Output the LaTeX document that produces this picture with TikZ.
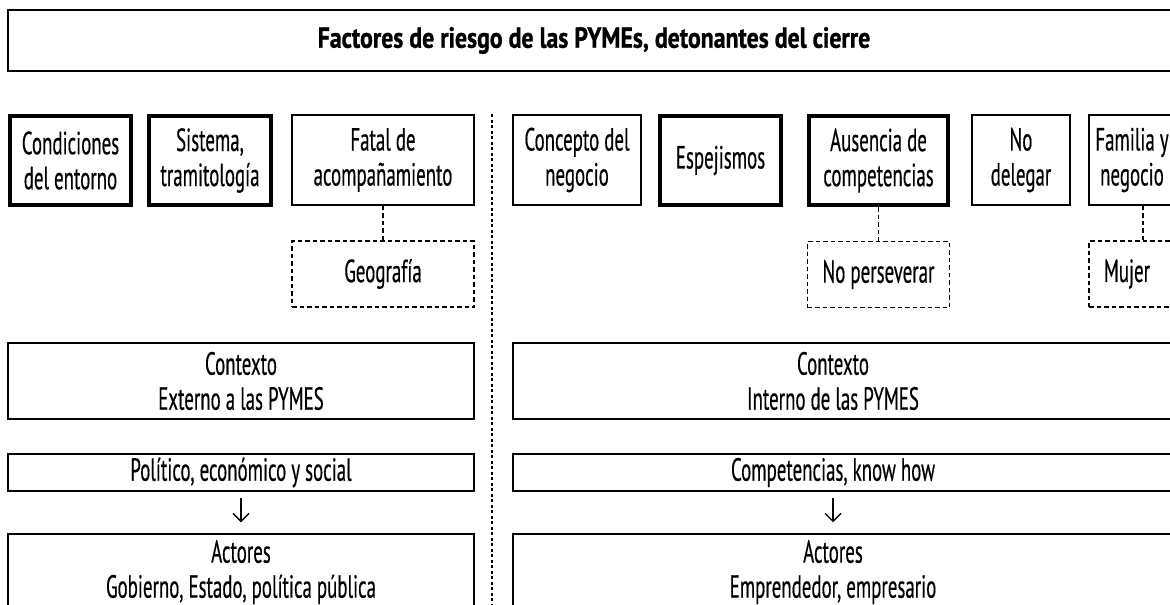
\documentclass[tikz,border=0pt]{standalone}
\usepackage{fontspec}
\setmainfont{PT Sans}[FakeStretch=0.59,FakeBold=0.4]
\newfontfamily\titlefont{PT Sans Bold}[FakeStretch=0.82,FakeBold=1]
\usetikzlibrary{positioning,arrows.meta}

\begin{document}
\begin{tikzpicture}[x=1pt,y=-1pt,>={Straight Barb[length=8pt,width=16pt]},node distance=114pt]
\tikzstyle{every node}=[font=\fontsize{32pt}{35pt}\selectfont,inner sep=0pt,align=center]
\tikzstyle{factor}=[draw=black,line width=1.5pt,minimum height=90pt]
\tikzstyle{key factor}=[factor,line width=4.5pt,minimum height=89pt]
\tikzstyle{sub factor}=[factor,line width=1.5pt,dash pattern=on 4.5pt off 3pt,minimum height=66pt]
\tikzstyle{wide box}=[draw=black,line width=1.5pt]
\tikzstyle{sub link}=[line width=1.5pt,dash pattern=on 4.5pt off 3pt]
\tikzstyle{down}=[->,line width=1.4pt,shorten <=6pt,shorten >=11pt]

  \useasboundingbox (0,0) rectangle (1170,605);
  \clip (0,0) rectangle (1170,605);

  % title
  \node[wide box,minimum width=1172pt,minimum height=61pt,font=\fontsize{29pt}{34pt}\titlefont] (title) at (594,40.5) {Factores de riesgo de las PYMEs, detonantes del cierre};

  % factores externos
  \node[key factor,minimum width=121pt] (cond)  at (70.5,160.5) {Condiciones\\del entorno};
  \node[key factor,minimum width=122pt] (sist)  at (210,160.5)  {Sistema,\\tramitología};
  \node[factor,minimum width=182pt]     (fatal) at (383,160)    {Fatal de\\acompañamiento};
  \node[sub factor,minimum width=182pt] (geog)  [below of=fatal] {Geografía};

  % factores internos
  \node[factor,minimum width=128pt]     (conc)  at (577,160)    {Concepto del\\negocio};
  \node[key factor,minimum width=121pt] (espej) at (720.5,160.5) {Espejismos};
  \node[key factor,minimum width=139pt] (ausen) at (878.5,160.5) {Ausencia de\\competencias};
  \node[factor,minimum width=98pt]      (deleg) at (1021,160)   {No\\delegar};
  \node[factor,minimum width=86pt]      (famil) at (1132,160)   {Familia y\\negocio};
  \node[sub factor,minimum width=142pt] (pers)  [below of=ausen] {No perseverar};
  \node[sub factor,minimum width=86pt]  (mujer) [below of=famil] {\hspace*{-10pt}Mujer};

  \path[sub link]
  (fatal) edge (geog)
  (ausen) edge (pers)
  ; %end path
  \draw[sub link] ([xshift=11pt]famil.south) -- ([xshift=11pt]mujer.north);

  % separador
  \coordinate (sepA) at (492,114);
  \coordinate (sepB) at (492,620);
  \draw[line width=1.2pt,dash pattern=on 3pt off 2.5pt] (sepA) -- (sepB);

  % contexto externo
  \node[wide box,minimum width=466pt,minimum height=76pt] (ctxext) at (241,381) {Contexto\\Externo a las PYMES};
  \node[wide box,minimum width=466pt,minimum height=37pt] (polext) at (241,472.5) {Político, económico y social};
  \node[wide box,minimum width=466pt,minimum height=76pt] (actext) at (241,572) {Actores\\Gobierno, Estado, política pública};
  \draw[down] (polext) -- (actext);

  % contexto interno
  \node[wide box,minimum width=672pt,minimum height=76pt] (ctxint) at (849,381) {};
  \node (ctxinttxt) at (833,381) {Contexto\\Interno de las PYMES};
  \node[wide box,minimum width=672pt,minimum height=37pt] (polint) at (849,472.5) {};
  \node (polinttxt) at (833,472.5) {Competencias, know how};
  \node[wide box,minimum width=672pt,minimum height=76pt] (actint) at (849,572) {};
  \node (actinttxt) at (833,572) {Actores\\Emprendedor, empresario};
  \draw[down] (polinttxt |- polint.south) -- (polinttxt |- actint.north);

\end{tikzpicture}
\end{document}
